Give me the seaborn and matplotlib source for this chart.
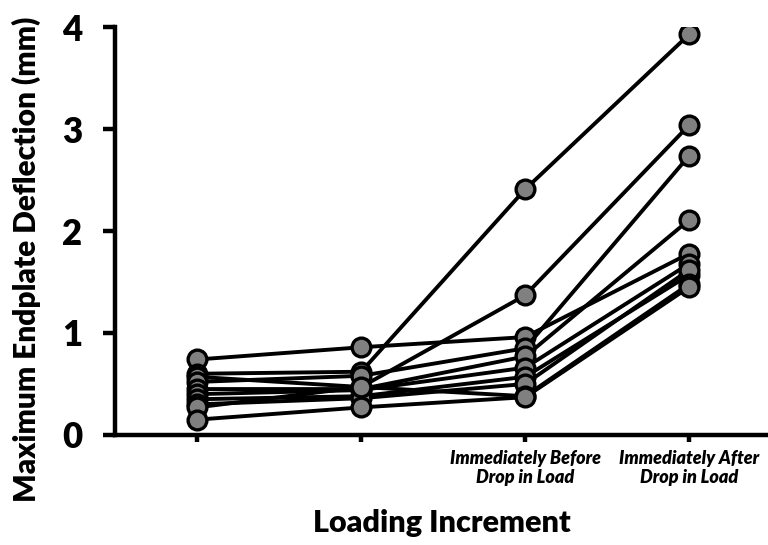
import pandas as pd
import seaborn as sns
import matplotlib.pyplot as plt

sns.set_style('white')
plt.rcParams['font.family'] = ['Lato', 'DejaVu Sans']
plt.rcParams['text.color'] = 'black'
plt.rcParams['axes.labelcolor'] = 'black'
plt.rcParams['xtick.color'] = 'black'
plt.rcParams['ytick.color'] = 'black'

# ## Data
increments = [0, 1, 2, 3]
tick_labels = ['', '', 'Immediately Before\nDrop in Load', 'Immediately After\nDrop in Load']

s1 = [0.74, 0.86, 0.96, 1.78]
s2 = [0.60, 0.62, 2.41, 3.93]
s3 = [0.57, 0.47, 1.37, 3.04]
s4 = [0.52, 0.58, 0.85, 2.74]
s5 = [0.45, 0.45, 0.77, 2.11]
s6 = [0.40, 0.44, 0.66, 1.68]
s7 = [0.35, 0.38, 0.57, 1.57]
s8 = [0.30, 0.36, 0.50, 1.62]
s9 = [0.27, 0.47, 0.38, 1.48]
s10 = [0.15, 0.27, 0.37, 1.45]

series = [s1, s2, s3, s4, s5, s6, s7, s8, s9, s10]
rows = []
for i, vals in enumerate(series):
    for x, v in zip(increments, vals):
        rows.append([i, x, v])
df = pd.DataFrame(rows, columns=['specimen', 'increment', 'deflection'])

# ## Graph data
fig = plt.figure(figsize=(7.68, 5.45), dpi=100)
ax = fig.add_axes([0.150, 0.202, 0.852, 0.748])

sns.lineplot(data=df, x='increment', y='deflection', units='specimen', estimator=None,
             color='black', lw=2.8, marker='o', markersize=13.5,
             markerfacecolor='#808080', markeredgecolor='black', markeredgewidth=2.4,
             ax=ax, legend=False)

ax.set_xlim(-0.5, 3.49)
ax.set_ylim(0, 4)
ax.set_xticks(increments)
ax.set_xticklabels(tick_labels, fontsize=13, fontweight='heavy', fontstyle='italic',
                   linespacing=1.15)
ax.set_yticks([0, 1, 2, 3, 4])
ax.set_yticklabels(['0', '1', '2', '3', '4'], fontsize=25, fontweight='heavy')
ax.set_xlabel('Loading Increment', fontsize=22, fontweight='heavy', labelpad=16)
ax.set_ylabel('Maximum Endplate Deflection (mm)', fontsize=21.5, fontweight='heavy')
ax.yaxis.set_label_coords(-0.113, 0.43)

for side in ['top', 'right']:
    ax.spines[side].set_visible(False)
for side in ['left', 'bottom']:
    ax.spines[side].set_linewidth(3.2)
    ax.spines[side].set_color('black')
ax.tick_params(axis='both', direction='out', width=3.2, color='black', bottom=True, left=True)
ax.tick_params(axis='x', length=5, pad=6)
ax.tick_params(axis='y', length=8.5, pad=15)

fig.savefig('out.png', dpi=100)
